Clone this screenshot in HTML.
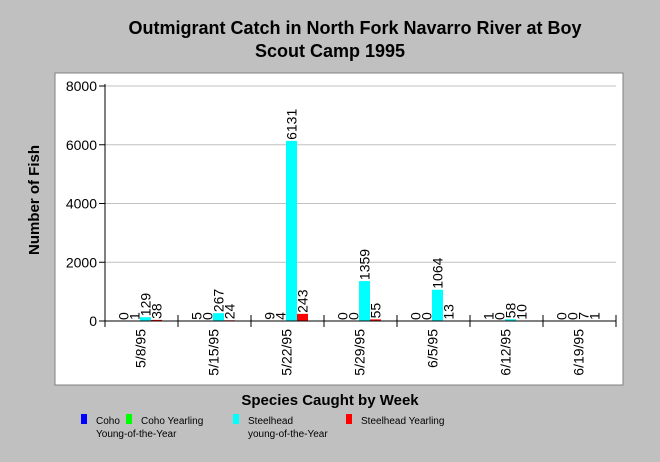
<!DOCTYPE html>
<html><head><meta charset="utf-8"><style>
body{margin:0;background:#c0c0c0;}
svg text{font-family:"Liberation Sans",Arial,sans-serif;}
</style></head><body>
<svg id="chart" width="660" height="457" xmlns="http://www.w3.org/2000/svg">
<rect width="660" height="457" fill="#c0c0c0"/>
<text x="355" y="34" text-anchor="middle" font-size="18" font-weight="bold" fill="#000">Outmigrant Catch in North Fork Navarro River at Boy</text>
<text x="330" y="57" text-anchor="middle" font-size="18" font-weight="bold" fill="#000">Scout Camp 1995</text>
<rect x="55" y="73" width="568" height="312" fill="#fff" stroke="#808080"/>
<g id="grid"></g><g id="bars"></g><g id="axes"></g>
<text transform="translate(39,200) rotate(-90)" text-anchor="middle" font-size="15" font-weight="bold">Number of Fish</text>
<text x="330" y="405" text-anchor="middle" font-size="15" font-weight="bold">Species Caught by Week</text>
<g id="legend" font-size="10"></g>
</svg>
<script>
const categories=["5/8/95","5/15/95","5/22/95","5/29/95","6/5/95","6/12/95","6/19/95"];
const cohoYOY=[0,5,9,0,0,1,0];
const cohoYearling=[1,0,4,0,0,0,0];
const steelheadYOY=[129,267,6131,1359,1064,58,7];
const steelheadYearling=[38,24,243,55,13,10,1];
const yTicks=[0,2000,4000,6000,8000];
const seriesNames=[["Coho","Young-of-the-Year"],["Coho Yearling"],["Steelhead","young-of-the-Year"],["Steelhead Yearling"]];
const colors=["#0000ff","#00ff00","#00ffff","#ff0000"];
const series=[cohoYOY,cohoYearling,steelheadYOY,steelheadYearling];
const NS="http://www.w3.org/2000/svg";
const X0=105,X1=616,Y0=321,Y1=86,YMAX=8000;
const gw=(X1-X0)/categories.length,bw=11,boff=13;
function y(v){return Y0-(v/YMAX)*(Y0-Y1);}
function mk(t,a,p){const e=document.createElementNS(NS,t);for(const k in a)e.setAttribute(k,a[k]);p.appendChild(e);return e;}
const grid=document.getElementById('grid'),axes=document.getElementById('axes'),bars=document.getElementById('bars'),leg=document.getElementById('legend');
yTicks.forEach(v=>{
 if(v>0){const g=mk('line',{x1:X0,x2:X1,y1:y(v),y2:y(v),stroke:'#c0c0c0'},grid);
 
 }
 const t=mk('line',{x1:X0-6,x2:X0,y1:y(v),y2:y(v),stroke:'#000'},axes);
 
 
 const l=mk('text',{x:X0-8,y:y(v)+5,'text-anchor':'end','font-size':14},axes);l.textContent=v;
 
 
});
const ya=mk('line',{x1:X0,x2:X0,y1:Y1-2,y2:Y0,stroke:'#000'},axes);


const xa=mk('line',{x1:X0,x2:X1,y1:Y0,y2:Y0,stroke:'#000'},axes);


for(let i=0;i<=categories.length;i++){
 const tk=mk('line',{x1:X0+i*gw,x2:X0+i*gw,y1:Y0-6,y2:Y0+6,stroke:'#000'},axes);
 
 
}
categories.forEach((c,i)=>{
 const cx=X0+i*gw+gw/2+4;
 const t=mk('text',{transform:`translate(${cx},${Y0+8}) rotate(-90)`,'text-anchor':'end','font-size':14},axes);t.textContent=c;
 
 
 series.forEach((s,j)=>{
  const bx=X0+i*gw+boff+j*bw,v=s[i];
  const r=mk('rect',{x:bx,y:y(v),width:bw,height:Y0-y(v),fill:colors[j]},bars);
  
  
  const lx=bx+bw/2+5;
  const lb=mk('text',{transform:`translate(${lx},${y(v)-1}) rotate(-90)`,'font-size':14},bars);lb.textContent=v;
  
  
 });
});
const lxs=[81,126,233,346];
seriesNames.forEach((n,j)=>{
 const sw=mk('rect',{x:lxs[j],y:414,width:6,height:10,fill:colors[j]},leg);
 
 
 n.forEach((line,k)=>{
  const t=mk('text',{x:lxs[j]+15,y:424+k*13},leg);t.textContent=line;
  
  
 });
});
</script>
</body></html>
